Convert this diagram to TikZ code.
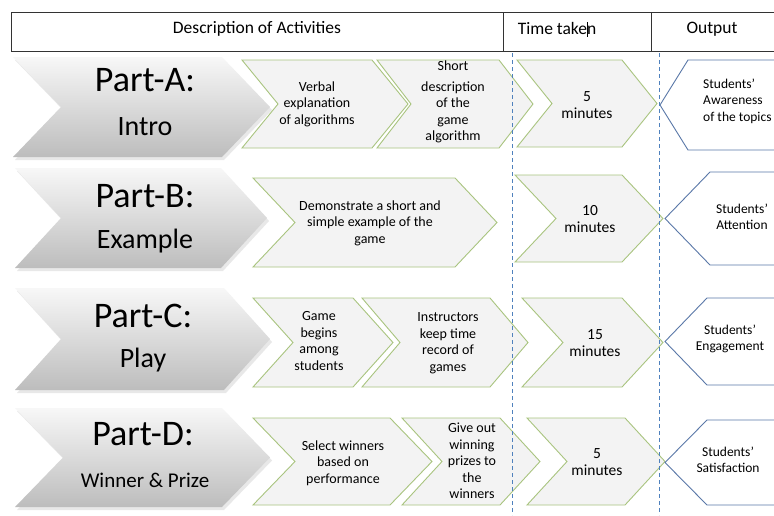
\documentclass[tikz,border=0pt]{standalone}
\usepackage{fontspec}
\setmainfont{Carlito}
\definecolor{gborder}{HTML}{A9C47F}
\definecolor{gfill}{HTML}{F3F3F3}
\definecolor{oborder}{HTML}{5A78A8}
\definecolor{dashblue}{HTML}{4F81BD}
\definecolor{hdrline}{HTML}{333333}
\tikzset{
  grayshape/.style={top color=gray!6, bottom color=gray!52, draw=none},
  grayshadow/.style={fill=gray!35, draw=none, opacity=0.5},
  greenshape/.style={fill=gfill, draw=gborder, line width=0.9pt, line join=miter},
  outshape/.style={fill=white, draw=oborder, line width=0.9pt, line join=miter},
  hdrbox/.style={draw=hdrline, line width=0.9pt},
  hdrtext/.style={font=\fontsize{17.5}{20}\selectfont, inner sep=0pt},
  parttext/.style={font=\fontsize{36}{40}\selectfont, anchor=base, inner sep=0pt},
  subtext/.style={font=\fontsize{28}{32}\selectfont, anchor=base, inner sep=0pt},
  smalltext/.style={font=\fontsize{14}{16.5}\selectfont, align=center, inner sep=0pt},
  timetext/.style={font=\fontsize{15.5}{16.5}\selectfont, align=center, inner sep=0pt},
  outtext/.style={font=\fontsize{13.5}{16.5}\selectfont, align=center, inner sep=0pt},
  timeline/.style={draw=dashblue, line width=0.7pt, dash pattern=on 4pt off 3pt}
}
% style L R(tip) T B d
\newcommand\chevshape[6]{%
  \path[#1] (#2,#4) -- ({#3-#6},#4) -- (#3,{(#4+#5)/2}) -- ({#3-#6},#5) -- (#2,#5) -- ({#2+#6},{(#4+#5)/2}) -- cycle;}
% tip corner T B
\newcommand\outchev[4]{%
  \path[outshape] (#1,{(#3+#4)/2}) -- (#2,#3) -- (800,#3) -- (800,#4) -- (#2,#4) -- cycle;}
\begin{document}
\begin{tikzpicture}[x=1pt,y=-1pt]
\useasboundingbox (0,0) rectangle (774,515);
\clip (0,0) rectangle (774,515);
\fill[white] (0,0) rectangle (774,515);

% header
\draw[hdrbox] (11,12) rectangle (503,51);
\draw[hdrbox] (503,12) rectangle (651,51);
\draw[hdrbox] (651,12) -- (790,12) (651,51) -- (790,51);
\node[hdrtext] (h1) at (257,29) {Description of Activities};
\node[hdrtext] (h2) at (557,29) {Time take\rlap{\rule[-2pt]{0.5pt}{15pt}}n};
\node[hdrtext] (h3) at (712,29) {Output};

% dashed time lines
\coordinate (t1a) at (512,53);
\coordinate (t1b) at (512,515);
\coordinate (t2a) at (659,53);
\coordinate (t2b) at (659,515);

% gray chevrons (shadow + shape)
\chevshape{grayshadow}{15}{272}{60}{160}{48}
\chevshape{grayshape}{13}{270}{57}{157}{48}
\chevshape{grayshadow}{17}{269}{171}{271}{46}
\chevshape{grayshape}{15}{267}{168}{268}{46}
\chevshape{grayshadow}{17}{272}{291}{393}{46}
\chevshape{grayshape}{15}{270}{288}{390}{46}
\chevshape{grayshadow}{17}{272}{411}{510}{48}
\chevshape{grayshape}{15}{270}{408}{507}{48}

\node[parttext] (pa) at (145,91) {Part-A:};
\node[subtext]  (pas) at (145,135) {Intro};
\node[parttext] (pb) at (145,207) {Part-B:};
\node[subtext]  (pbs) at (145,248) {Example};
\node[parttext] (pc) at (143,327) {Part-C:};
\node[subtext]  (pcs) at (143,367) {Play};
\node[parttext] (pd) at (143,445) {Part-D:};
\node[font=\fontsize{21}{24}\selectfont, anchor=base, inner sep=0pt] (pds) at (145,487) {Winner \& Prize};

% row A
\chevshape{greenshape}{242}{408}{60}{148}{36}
\chevshape{greenshape}{377}{533}{60}{148}{34}
\chevshape{greenshape}{517}{657}{60}{147}{35}
\outchev{660}{688}{60}{150}
\node[smalltext] (a1) at (317,104) {Verbal\\explanation\\of algorithms};
\node[smalltext] (a2) at (453,102) {Short\\[4pt]description\\of the\\game\\algorithm};
\node[timetext] (at) at (587,105) {5\\minutes};
\node[outtext, align=left, anchor=west] (ao) at (703,101) {Students’\\Awareness\\of the topics};

% row B
\chevshape{greenshape}{253}{497}{178}{267}{42}
\chevshape{greenshape}{515}{663}{175}{262}{41}
\outchev{665}{710}{172}{265}
\node[smalltext] (b1) at (370,223) {Demonstrate a short and\\simple example of the\\game};
\node[timetext] (bt) at (590,219) {10\\minutes};
\node[outtext] (bo) at (742,217) {Students’\\Attention};

% row C
\chevshape{greenshape}{253}{393}{298}{387}{40}
\chevshape{greenshape}{362}{528}{298}{387}{38}
\chevshape{greenshape}{522}{663}{298}{387}{41}
\outchev{665}{707}{298}{385}
\node[smalltext] (c1) at (319,341) {Game\\begins\\among\\students};
\node[smalltext] (c2) at (448,343) {Instructors\\keep time\\record of\\games};
\node[timetext] (ct) at (595,343) {15\\minutes};
\node[outtext] (co) at (730,339) {Students’\\Engagement};

% row D
\chevshape{greenshape}{253}{432}{418}{505}{42}
\chevshape{greenshape}{402}{540}{418}{505}{40}
\chevshape{greenshape}{527}{665}{418}{505}{40}
\outchev{665}{707}{420}{505}
\node[smalltext] (d1) at (343,463) {Select winners\\based on\\performance};
\node[smalltext] (d2) at (472,461) {Give out\\winning\\prizes to\\the\\winners};
\node[timetext] (dt) at (597,462) {5\\minutes};
\node[outtext] (do) at (728,460) {Students’\\Satisfaction};

% dashed lines on top
\draw[timeline] (t1a) -- (t1b);
\draw[timeline] (t2a) -- (t2b);
\end{tikzpicture}
\end{document}
